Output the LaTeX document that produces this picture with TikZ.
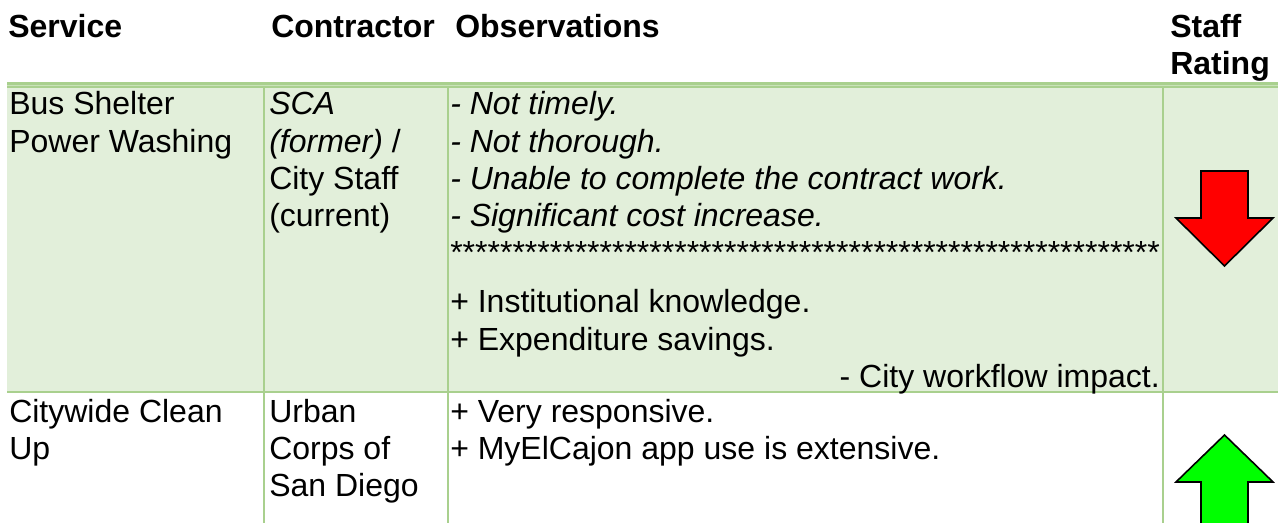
\documentclass[tikz,border=0pt]{standalone}
\usepackage{fontspec}
\setmainfont{Liberation Sans}
\definecolor{rowfill}{HTML}{E2EFDA}
\definecolor{gline}{HTML}{A9D08E}
\definecolor{glight}{HTML}{C9E2B8}
\definecolor{arrred}{HTML}{FF0000}
\definecolor{arrgreen}{HTML}{00FF00}
\begin{document}
\begin{tikzpicture}[x=0.75pt,y=-0.75pt,
  txt/.style={anchor=base west,inner sep=0pt,font=\fontsize{24}{28}\selectfont},
  hdr/.style={txt,font=\fontsize{24}{28}\selectfont\bfseries},
  rtxt/.style={txt,anchor=base east},
  gridline/.style={draw=gline,line width=2.2pt},
  arrowshape/.style={draw=black,line width=1.2pt,line join=miter}]
\useasboundingbox (0,0) rectangle (1278,523);
\begin{scope}
\clip (0,0) rectangle (1278,523);
% row 1 fill
\fill[rowfill] (7,88) rectangle (1278,392);
% header double rule
\fill[gline] (7,82.5) rectangle (1278,88.5);
\draw[glight,line width=0.9pt] (7,85.5) -- (1278,85.5);
% row separator
\draw[gridline] (7,392) -- (1278,392);
% verticals
\coordinate (v1t) at (264,88); \coordinate (v1b) at (264,523);
\coordinate (v2t) at (448,88); \coordinate (v2b) at (448,523);
\coordinate (v3t) at (1163,88); \coordinate (v3b) at (1163,523);
\draw[gridline] (v1t) -- (v1b);
\draw[gridline] (v2t) -- (v2b);
\draw[gridline] (v3t) -- (v3b);
% arrows
\filldraw[arrowshape,fill=arrred] (1201,171) -- (1248,171) -- (1248,218) -- (1273,218) -- (1224.5,266) -- (1176,218) -- (1201,218) -- cycle;
\filldraw[arrowshape,fill=arrgreen] (1224.5,435) -- (1273,482) -- (1248,482) -- (1248,540) -- (1201,540) -- (1201,482) -- (1176,482) -- cycle;
\end{scope}
% header
\node[hdr] (hService) at (8,38) {Service};
\node[hdr] (hContr) at (271,38) {Contractor};
\node[hdr] (hObs) at (455,38) {Observations};
\node[hdr] (hStaff) at (1170,38) {Staff};
\node[hdr] (hRating) at (1170,75) {Rating};
% row 1
\node[txt] (s1a) at (9,115) {Bus Shelter};
\node[txt] (s1b) at (9,153) {Power Washing};
\node[txt] (c1a) at (269,115) {\itshape SCA};
\node[txt] (c1b) at (269,153) {\itshape (former)\upshape\ /};
\node[txt] (c1c) at (269,190) {City Staff};
\node[txt] (c1d) at (269,227) {(current)};
\node[txt] (o1a) at (450,115) {\itshape - Not timely.};
\node[txt] (o1b) at (450,153) {\itshape - Not thorough.};
\node[txt] (o1c) at (450,190) {\itshape - Unable to complete the contract work.};
\node[txt] (o1d) at (450,227) {\itshape - Significant cost increase.};
\node[txt] (o1e) at (450,264) {*********************************************************};
\node[txt] (o1f) at (450,313) {+ Institutional knowledge.};
\node[txt] (o1g) at (450,351) {+ Expenditure savings.};
\node[rtxt] (o1h) at (1160,388) {- City workflow impact.};
% row 2
\node[txt] (s2a) at (9,423) {Citywide Clean};
\node[txt] (s2b) at (9,460) {Up};
\node[txt] (c2a) at (269,423) {Urban};
\node[txt] (c2b) at (269,460) {Corps of};
\node[txt] (c2c) at (269,497) {San Diego};
\node[txt] (o2a) at (450,423) {+ Very responsive.};
\node[txt] (o2b) at (450,460) {+ MyElCajon app use is extensive.};
\end{tikzpicture}
\end{document}
